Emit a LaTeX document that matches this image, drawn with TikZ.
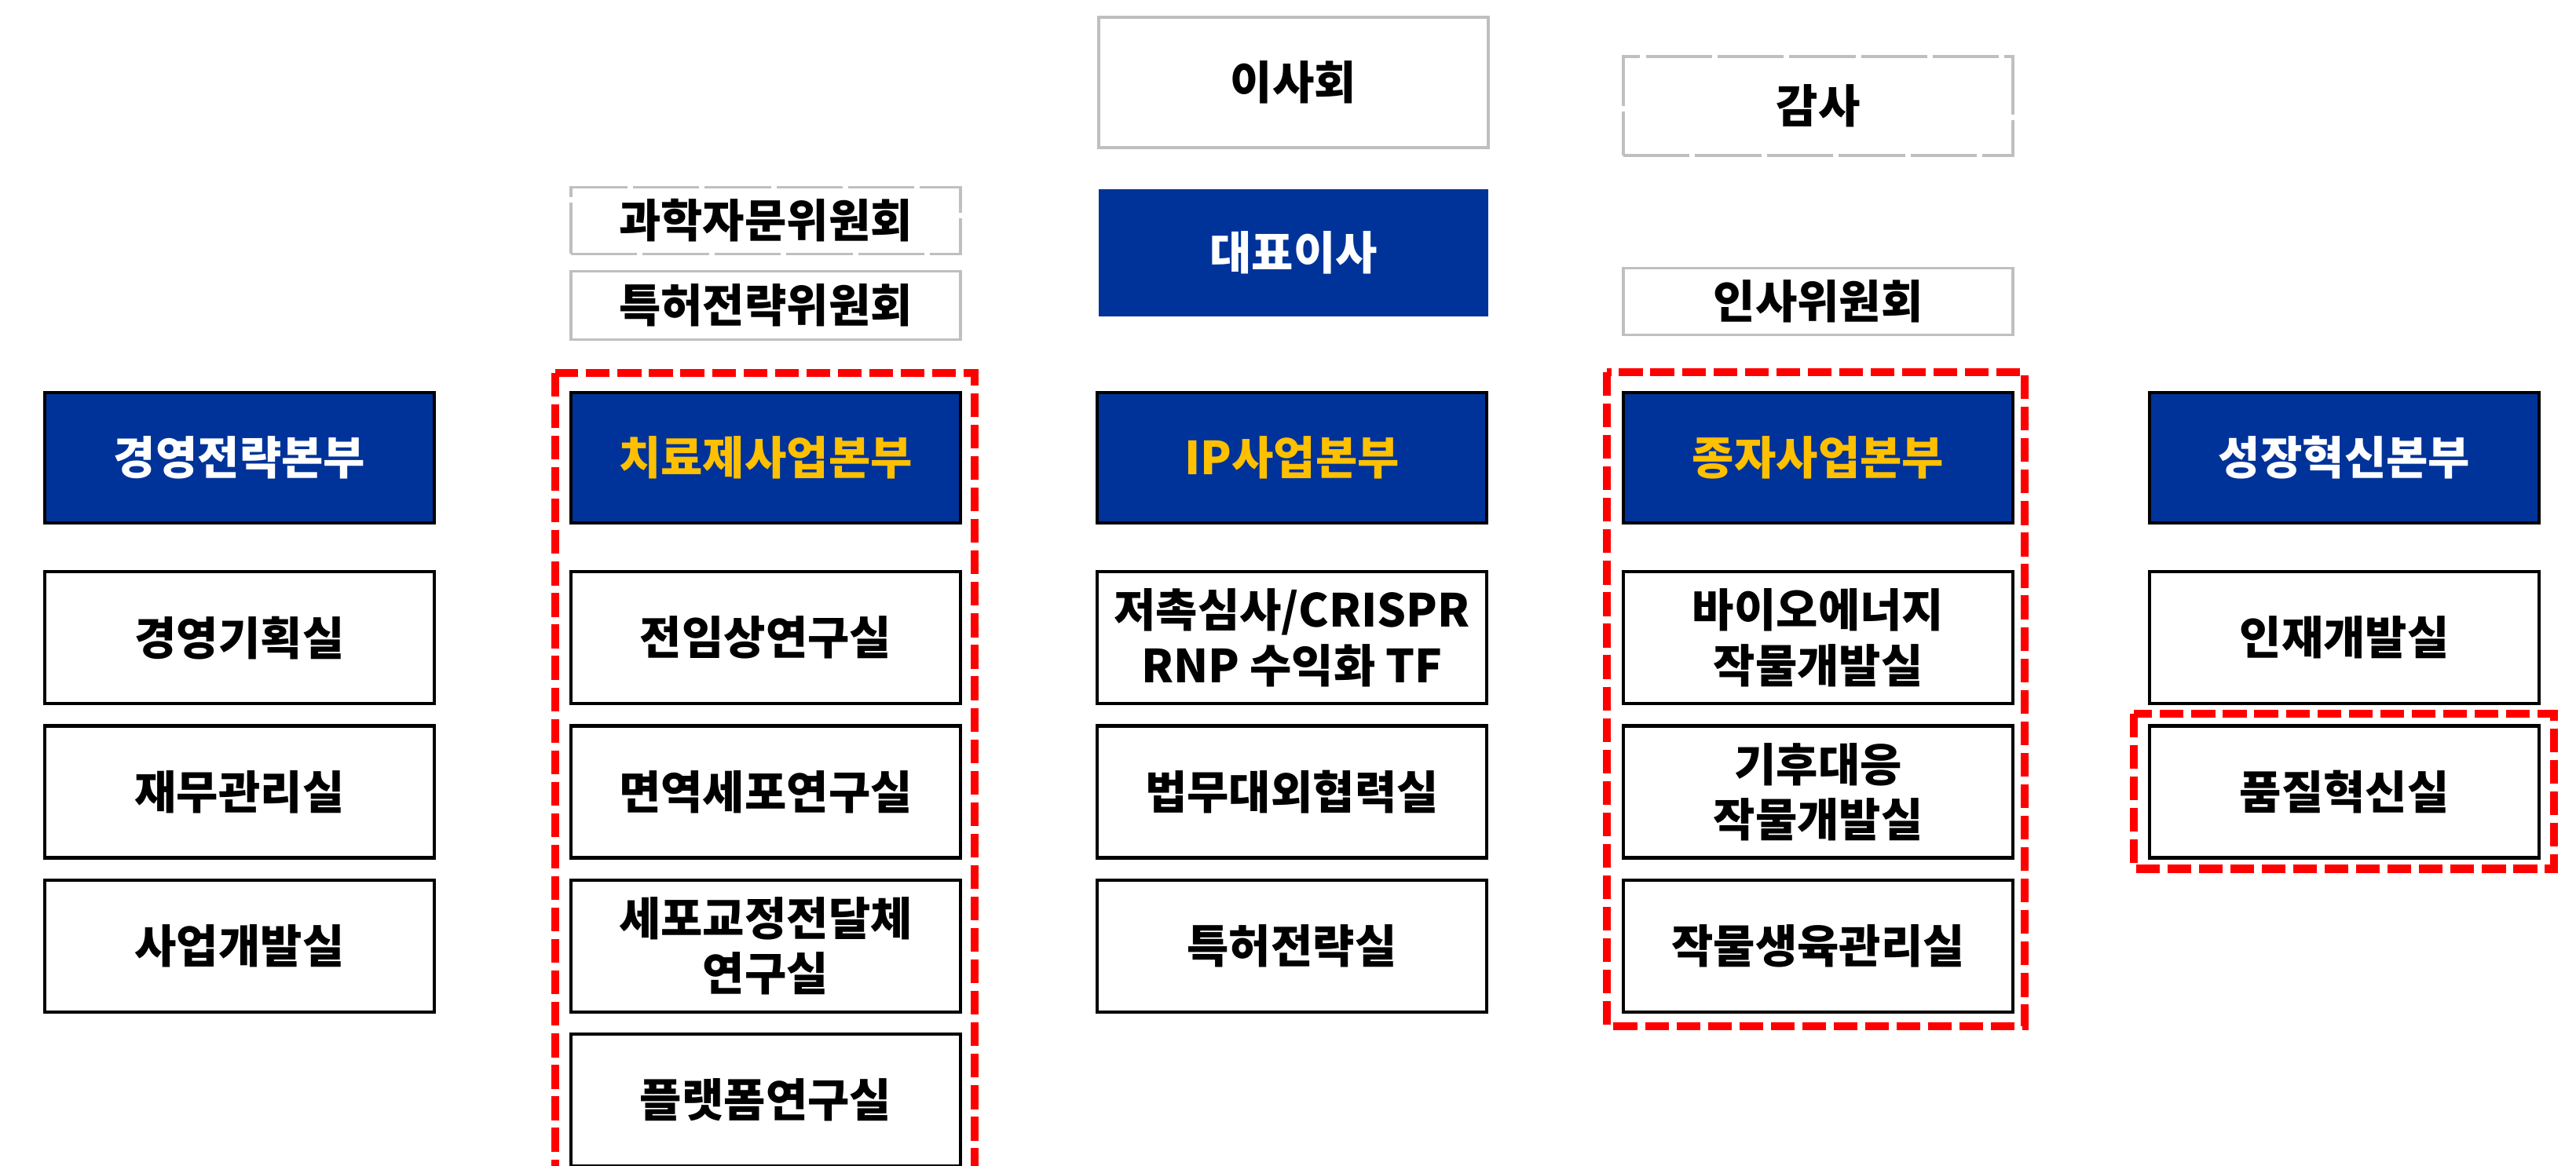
\documentclass[tikz,border=0pt]{standalone}
\usepackage{fontspec}
\setmainfont{Noto Sans CJK KR}
\usetikzlibrary{positioning}

\definecolor{hqblue}{RGB}{0,51,153}
\definecolor{hqyellow}{RGB}{255,192,0}

\begin{document}
\begin{tikzpicture}[
  office/.style={rectangle, draw=black, line width=1.2pt, fill=white,
                 minimum width=4.96cm, minimum height=1.68cm, inner sep=0pt,
                 align=center, font=\fontsize{16.5}{20}\selectfont\bfseries},
  hq/.style={office, fill=hqblue, text=white, minimum height=1.66cm},
  hqhot/.style={hq, text=hqyellow},
  board/.style={office, draw=black!25, line width=1.1pt},
  boarddash/.style={board, dash pattern=on 24pt off 2pt},
  redzone/.style={draw=red, line width=2.9pt, dash pattern=on 8.6pt off 2.8pt},
  node distance=0.24cm
]
\useasboundingbox (0,0) rectangle (32.8,14.84);

%% ---- TOP: board, CEO, committees ----
\node[board, minimum height=1.66cm]     (bod)   at (16.47, 13.79) {이사회};
\node[hq, draw=none, minimum height=1.62cm] (ceo) at (16.47, 11.62) {대표이사};
\node[boarddash, minimum height=1.26cm] (audit) at (23.15, 13.49) {감사};
\node[board, minimum height=0.85cm]     (hr)    at (23.15, 11.00) {인사위원회};
\node[boarddash, minimum height=0.85cm] (sci)   at (9.75, 12.03)  {과학자문위원회};
\node[board, minimum height=0.87cm]     (pat)   at (9.75, 10.95)  {특허전략위원회};

%% ---- HEADQUARTERS ----
\node[hq]    (mgmt)   at (3.05, 9.01)  {경영전략본부};
\node[hqhot] (thera)  at (9.75, 9.01)  {치료제사업본부};
\node[hqhot] (ip)     at (16.45, 9.01) {IP사업본부};
\node[hqhot] (seed)   at (23.15, 9.01) {종자사업본부};
\node[hq]    (growth) at (29.85, 9.01) {성장혁신본부};

%% ---- OFFICES ----
\node[office, below=0.58cm of mgmt] (mgmt1) {경영기획실};
\node[office, below=of mgmt1]       (mgmt2) {재무관리실};
\node[office, below=of mgmt2]       (mgmt3) {사업개발실};

\node[office, below=0.58cm of thera] (thera1) {전임상연구실};
\node[office, below=of thera1]       (thera2) {면역세포연구실};
\node[office, below=of thera2]       (thera3) {세포교정전달체\\연구실};
\node[office, below=of thera3]       (thera4) {플랫폼연구실};

\node[office, below=0.58cm of ip] (ip1) {저촉심사/CRISPR\\RNP 수익화 TF};
\node[office, below=of ip1]       (ip2) {법무대외협력실};
\node[office, below=of ip2]       (ip3) {특허전략실};

\node[office, below=0.58cm of seed] (seed1) {바이오에너지\\작물개발실};
\node[office, below=of seed1]       (seed2) {기후대응\\작물개발실};
\node[office, below=of seed2]       (seed3) {작물생육관리실};

\node[office, below=0.58cm of growth] (growth1) {인재개발실};
\node[office, below=of growth1]       (growth2) {품질혁신실};

%% ---- HIGHLIGHTS ----
\draw[redzone] ([shift={(-0.18,0.23)}]thera.north west)
     rectangle ([shift={(0.16,-0.11)}]thera4.south east);
\draw[redzone] ([shift={(-0.19,0.24)}]seed.north west)
     rectangle ([shift={(0.13,-0.16)}]seed3.south east);
\draw[redzone] ([shift={(-0.18,0.135)}]growth2.north west)
     rectangle ([shift={(0.17,-0.12)}]growth2.south east);

\end{tikzpicture}
\end{document}
